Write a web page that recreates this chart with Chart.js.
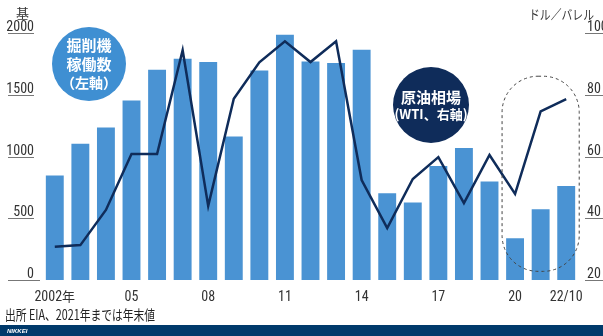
<!DOCTYPE html>
<html><head><meta charset="utf-8">
<script src="https://cdn.jsdelivr.net/npm/chart.js@4/dist/chart.umd.min.js"></script>
<style>html,body{margin:0;padding:0;background:#fff;overflow:hidden}canvas{display:block}</style>
</head><body><canvas id="c" width="603" height="336"></canvas>
<script>
const years = [2002,2003,2004,2005,2006,2007,2008,2009,2010,2011,2012,2013,2014,2015,2016,2017,2018,2019,2020,2021,2022];
const xTickLabels = ['2002年','','','05','','','08','','','11','','','14','','','17','','','20','','22/10'];
const rigCount = [846,1103,1235,1454,1702,1792,1765,1162,1697,1986,1770,1757,1865,703,627,924,1068,797,338,573,762];
const wti = [30.8,31.3,42.7,60.8,60.8,94.4,44.0,78.7,90.5,97.3,90.6,97.3,52.4,36.8,52.7,59.8,44.9,60.5,47.9,74.6,78.6];
const leftTicks = [0,500,1000,1500,2000];
const rightTicks = [20,40,60,80,100];

const NUM_FONT = '"Liberation Sans Narrow","Roboto Condensed","Liberation Sans",Arial,sans-serif';
const JP_FONT = '"Noto Sans CJK JP","Noto Sans",sans-serif';

function fitText(ctx, txt, x, y, w) {
  const m = ctx.measureText(txt).width;
  const s = Math.min(1, w / m);
  ctx.save();
  ctx.translate(x, y);
  ctx.scale(s, 1);
  ctx.fillText(txt, 0, 0);
  ctx.restore();
}

const overlay = {
  id: 'overlay',
  afterDatasetsDraw(chart) {
    const ctx = chart.ctx;
    const x = chart.scales.x, yl = chart.scales.yL, yr = chart.scales.yR;
    ctx.save();
    // left ticks
    ctx.font = '14px ' + NUM_FONT;
    ctx.fillStyle = '#333';
    ctx.strokeStyle = '#777';
    ctx.lineWidth = 1;
    ctx.textAlign = 'right';
    ctx.textBaseline = 'alphabetic';
    leftTicks.forEach(v => {
      const py = Math.round(yl.getPixelForValue(v)) + 0.5;
      ctx.fillText(String(v), 34, py - 3);
      ctx.beginPath();
      ctx.moveTo(8, py); ctx.lineTo(v === 0 ? 40 : 34, py); ctx.stroke();
    });
    // right ticks
    ctx.textAlign = 'left';
    rightTicks.forEach(v => {
      const py = Math.round(yr.getPixelForValue(v)) + 0.5;
      ctx.fillText(String(v), 587, py - 3);
      ctx.beginPath();
      ctx.moveTo(585, py); ctx.lineTo(603, py); ctx.stroke();
    });
    // x labels
    ctx.textAlign = 'center';
    xTickLabels.forEach((lab, i) => {
      if (!lab) return;
      const px = x.getPixelForValue(i);
      if (lab.indexOf('年') >= 0) {
        const num = lab.replace('年','');
        ctx.font = '14px ' + NUM_FONT;
        const w1 = ctx.measureText(num).width;
        ctx.font = '13px ' + JP_FONT;
        const w2 = ctx.measureText('年').width;
        const sx = px - (w1 + w2) / 2;
        ctx.textAlign = 'left';
        ctx.font = '14px ' + NUM_FONT;
        ctx.fillText(num, sx, 301);
        ctx.font = '13px ' + JP_FONT;
        ctx.fillText('年', sx + w1, 301);
        ctx.textAlign = 'center';
      } else {
        ctx.font = '14px ' + NUM_FONT;
        ctx.fillText(lab, px, 301);
      }
    });
    // units
    ctx.font = '13px ' + JP_FONT;
    ctx.textAlign = 'left';
    ctx.fillStyle = '#333';
    ctx.fillText('基', 16, 18);
    ctx.font = '13px ' + JP_FONT;
    fitText(ctx, 'ドル／バレル', 529, 19, 65);

    // dashed rounded rect around 2020-2022
    const x0 = x.getPixelForValue(18) - 13, x1 = x.getPixelForValue(20) + 13;
    const yt = yr.getPixelForValue(86), yb = yl.getPixelForValue(70);
    ctx.setLineDash([3, 3]);
    ctx.strokeStyle = '#444';
    ctx.lineWidth = 1;
    ctx.beginPath();
    ctx.roundRect(x0, yt, x1 - x0, yb - yt, 36);
    ctx.stroke();
    ctx.setLineDash([]);

    // bubbles
    ctx.fillStyle = '#3f8fd2';
    ctx.beginPath(); ctx.arc(89, 64, 37, 0, Math.PI * 2); ctx.fill();
    ctx.fillStyle = '#fff';
    ctx.textAlign = 'center';
    ctx.textBaseline = 'middle';
    ctx.font = 'bold 15px ' + JP_FONT;
    ctx.fillText('掘削機', 89, 45);
    ctx.fillText('稼働数', 89, 64);
    ctx.font = 'bold 14px ' + JP_FONT;
    ctx.fillText('（左軸）', 89, 83);

    ctx.fillStyle = '#0f2c5a';
    ctx.beginPath(); ctx.arc(431, 105, 38, 0, Math.PI * 2); ctx.fill();
    ctx.fillStyle = '#fff';
    ctx.font = 'bold 15px ' + JP_FONT;
    ctx.fillText('原油相場', 431, 97);
    ctx.font = 'bold 13px ' + JP_FONT;
    ctx.fillText('(WTI、右軸)', 431, 114);

    // footer
    ctx.textBaseline = 'alphabetic';
    ctx.textAlign = 'left';
    ctx.fillStyle = '#222';
    ctx.font = '14px ' + JP_FONT;
    fitText(ctx, '出所 EIA、2021年までは年末値', 5, 320, 150);
    ctx.fillStyle = '#003a6b';
    ctx.fillRect(0, 325, 603, 11);
    ctx.fillStyle = '#fff';
    ctx.font = 'italic bold 6px "Liberation Sans",Arial,sans-serif';
    ctx.fillText('NIKKEI', 7, 333);
    ctx.restore();
  }
};

new Chart(document.getElementById('c'), {
  data: {
    labels: years,
    datasets: [
      { type: 'line', data: wti, yAxisID: 'yR', borderColor: '#0f2c5a', borderWidth: 2.5,
        pointRadius: 0, tension: 0, order: 1, borderJoinStyle: 'miter' },
      { type: 'bar', data: rigCount, yAxisID: 'yL', backgroundColor: '#4a93d3',
        barPercentage: 0.7, categoryPercentage: 1.0, order: 2 }
    ]
  },
  options: {
    responsive: false,
    animation: false,
    layout: { padding: { left: 42, right: 24, top: 33, bottom: 56 } },
    plugins: { legend: { display: false }, tooltip: { enabled: false } },
    scales: {
      x: { display: false, offset: true, grid: { display: false } },
      yL: { display: false, position: 'left', min: 0, max: 2000 },
      yR: { display: false, position: 'right', min: 20, max: 100 }
    }
  },
  plugins: [overlay]
});
</script>
</body></html>
